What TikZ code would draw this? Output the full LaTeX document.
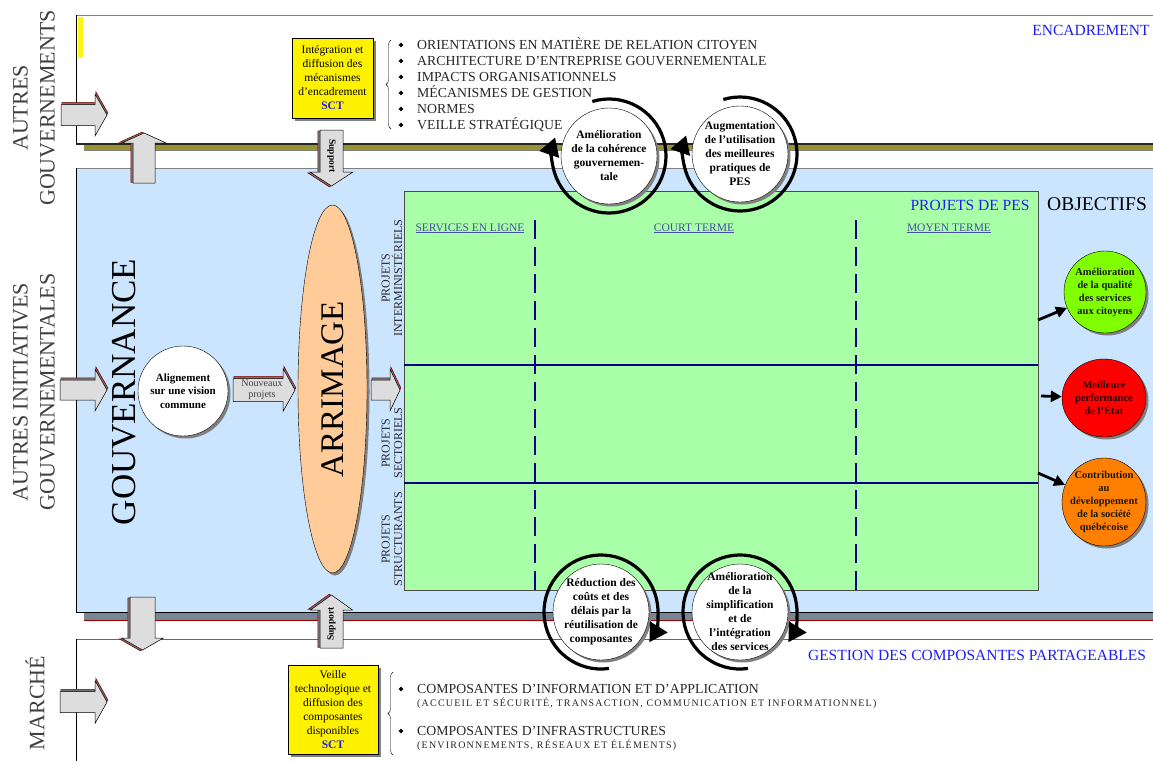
\documentclass[tikz,border=0pt]{standalone}
\usepackage{fontspec}
\setmainfont{Liberation Serif}
\usetikzlibrary{shapes.geometric,arrows.meta,shadows,decorations.pathreplacing}

\definecolor{bgblue}{RGB}{204,229,255}
\definecolor{pesgreen}{RGB}{168,255,168}
\definecolor{peach}{RGB}{255,204,153}
\definecolor{bandolive}{RGB}{153,148,48}
\definecolor{bandslate}{RGB}{120,134,150}
\definecolor{labblue}{RGB}{30,30,240}
\definecolor{colblue}{RGB}{70,80,160}
\definecolor{rownavy}{RGB}{0,0,128}
\definecolor{arrowgray}{RGB}{221,221,221}
\definecolor{objgreen}{RGB}{128,255,0}
\definecolor{objorange}{RGB}{255,128,0}

\newcommand{\fsz}[2]{\fontsize{#1}{#2}\selectfont}

\tikzstyle{shad} = [drop shadow={shadow xshift=2.5pt, shadow yshift=-2.5pt, fill=black!50, opacity=1}]
\tikzstyle{sctbox} = [draw=black, fill=yellow, shad, align=center, inner sep=0pt, font=\fsz{11.5}{14}]
\tikzstyle{cyclecirc} = [circle, draw=black, fill=white, shad, minimum size=96pt, inner sep=0pt]
\tikzstyle{circtxt} = [align=center, inner sep=0pt, font=\bfseries\fsz{11.5}{14}]
\tikzstyle{cyclearc} = [line width=3.2pt, -{Triangle[length=18pt,width=20pt]}]
\tikzstyle{objcirc} = [circle, draw=black, shad, inner sep=0pt]
\tikzstyle{objtxt} = [align=center, inner sep=0pt, text=black!90, font=\bfseries\fsz{10.5}{13}]
\tikzstyle{objarrow} = [line width=2.8pt, -{Triangle[length=11pt,width=11pt]}]
\tikzstyle{bluelab} = [text=labblue, inner sep=0pt, font=\fsz{15.5}{18}]
\tikzstyle{listtxt} = [anchor=west, inner sep=0pt, text height=9.5pt, text depth=0pt, text=black!85, font=\fsz{13.8}{16}]
\tikzstyle{subtxt} = [anchor=west, inner sep=0pt, text=black!85, font=\fsz{10}{11}\addfontfeatures{LetterSpace=12}]
\tikzstyle{encbullet} = [diamond, fill=black, inner sep=0pt, minimum size=5pt]
\tikzstyle{sidelab} = [rotate=90, align=center, inner sep=0pt, text=black!75, font=\fsz{22}{27}]
\tikzstyle{rowlab} = [rotate=90, align=center, inner sep=0pt, text=black!85, font=\fsz{12}{12.5}]
\tikzstyle{colhead} = [anchor=base, text=colblue, inner sep=0pt, font=\fsz{11.5}{13}]
\tikzstyle{coldash} = [rownavy, line width=2pt, dash pattern=on 19pt off 8pt]

% block arrow: transform, length, shaft half width, head half width, head length
\newcommand{\blockarrow}[5]{%
  \begin{scope}[#1]
    \filldraw[fill=black!55, draw=red!55!black, line width=0.6pt, xshift=0.8pt, yshift=2.2pt]
      (0,-#3) -- (#2-#5,-#3) -- (#2-#5,-#4) -- (#2,0) -- (#2-#5,#4) -- (#2-#5,#3) -- (0,#3) -- cycle;
    \filldraw[fill=arrowgray, draw=black, line width=0.5pt]
      (0,-#3) -- (#2-#5,-#3) -- (#2-#5,-#4) -- (#2,0) -- (#2-#5,#4) -- (#2-#5,#3) -- (0,#3) -- cycle;
  \end{scope}}

\begin{document}
\begin{tikzpicture}[x=1pt, y=-1pt]
\useasboundingbox (0,0) rectangle (1153,761);
\clip (0,0) rectangle (1153,761);

% encadrement band
\draw[gray, line width=1pt] (76,15) -- (1153,15);
\draw (76,15) -- (76,144);
\fill[yellow!90!white] (78,17) rectangle (83,58);
\fill[bandolive] (84,144) rectangle (1153,150);
\draw[line width=1.5pt, black!85] (76,144) -- (1153,144);
\draw[gray] (84,150.5) -- (1153,150.5);

% governance zone
\fill[bgblue] (76,168) rectangle (1153,612);
\draw[gray, line width=1pt] (76,168) -- (1153,168);
\draw (76,168) -- (76,612) -- (1153,612);
\fill[bandslate] (84,612.5) rectangle (1153,620);
\draw[red!60!black] (84,620.5) -- (1153,620.5);

% market band
\draw[gray!80!black, line width=0.8pt] (76,639) -- (1153,639);
\draw (76,639) -- (76,761);

% side labels
\node[sidelab] (autgouv) at (34,108) {AUTRES\\GOUVERNEMENTS};
\node[sidelab] (autinit) at (34,392) {AUTRES INITIATIVES\\GOUVERNEMENTALES};
\node[sidelab] (marche) at (35,703) {MARCHÉ};
\node[rotate=90, inner sep=0pt, font=\fsz{35}{40}] (gouv) at (124.5,392) {GOUVERNANCE};

% block arrows
\blockarrow{shift={(61,115)}}{46}{10.5}{21}{12}
\blockarrow{shift={(60,390)}}{47}{10}{21}{12}
\blockarrow{shift={(60,702)}}{47}{10.5}{21.5}{12}
\blockarrow{shift={(233,390)}}{62}{11.5}{21.5}{12}
\blockarrow{shift={(371,390)}}{29}{10}{21}{10}
\blockarrow{shift={(144,183)}, rotate=90}{50}{11}{22}{10}
\blockarrow{shift={(331.5,130)}, rotate=-90, yscale=-1}{56}{11.5}{21.5}{14}
\blockarrow{shift={(142.5,597)}, rotate=-90, yscale=-1}{53}{12.5}{21}{12}
\blockarrow{shift={(331.5,648)}, rotate=90}{53}{11.5}{21}{15}
\node[inner sep=0pt, align=center, text=black!75, font=\fsz{10}{10.5}] (nouv) at (262,390) {Nouveaux\\projets};
\node[rotate=-90, inner sep=0pt, font=\bfseries\fsz{9.5}{10}] (suppA) at (331.5,156) {Support};
\node[rotate=90, inner sep=0pt, font=\bfseries\fsz{9.5}{10}] (suppB) at (331.5,624) {Support};

% SCT boxes and lists
\node[sctbox, minimum width=81pt, minimum height=80pt] (sctA) at (332.5,78) {Intégration et\\diffusion des\\mécanismes\\d'encadrement\\\textcolor{labblue}{\textbf{SCT}}};
\node[sctbox, minimum width=90pt, minimum height=89pt] (sctB) at (333,709.5) {Veille\\technologique et\\diffusion des\\composantes\\disponibles\\\textcolor{labblue}{\textbf{SCT}}};
\draw[decorate, decoration={brace, amplitude=5pt}] (391,129) -- (391,40);
\draw[decorate, decoration={brace, amplitude=5pt}] (393,755) -- (393,672);
\foreach \txt [count=\i] in {ORIENTATIONS EN MATIÈRE DE RELATION CITOYEN, ARCHITECTURE D'ENTREPRISE GOUVERNEMENTALE, IMPACTS ORGANISATIONNELS, MÉCANISMES DE GESTION, NORMES, VEILLE STRATÉGIQUE}{
  \node[encbullet] (bul\i) at (401,29+16*\i) {};
  \node[listtxt] (enc\i) at (417,29+16*\i) {\txt};
}
\node[encbullet] (bulA) at (401,689) {};
\node[listtxt] (compA) at (417,689) {COMPOSANTES D'INFORMATION ET D'APPLICATION};
\node[subtxt] (subA) at (417,703) {(ACCUEIL ET SÉCURITÉ, TRANSACTION, COMMUNICATION ET INFORMATIONNEL)};
\node[encbullet] (bulB) at (401,731) {};
\node[listtxt] (compB) at (417,731) {COMPOSANTES D'INFRASTRUCTURES};
\node[subtxt] (subB) at (417,745) {(ENVIRONNEMENTS, RÉSEAUX ET ÉLÉMENTS)};
\node[bluelab] (encadr) at (1091,30) {ENCADREMENT};
\node[bluelab] (gestion) at (977,655) {GESTION DES COMPOSANTES PARTAGEABLES};

% alignment and arrimage
\node[circle, draw, fill=white, shad, minimum size=90pt, inner sep=0pt] (align) at (183,391) {};
\node[circtxt, font=\bfseries\fsz{11}{13.5}] (aligntxt) at (align) {Alignement\\sur une vision\\commune};
\node[ellipse, draw, fill=peach, shad, minimum width=69pt, minimum height=368pt, inner sep=0pt] (arrim) at (332.5,389) {};
\node[rotate=90, inner sep=0pt, font=\fsz{33}{36}] (arrimtxt) at (arrim) {ARRIMAGE};

% projets de PES
\node[draw=black!70, fill=pesgreen, anchor=north west, minimum width=634pt, minimum height=399pt, inner sep=0pt] (pes) at (404,191) {};
\draw[rownavy, line width=1.5pt] (pes.west |- 0,365) -- (pes.east |- 0,365);
\draw[rownavy, line width=1.5pt] (pes.west |- 0,483) -- (pes.east |- 0,483);
\draw[coldash] (535,220) -- (pes.south -| 535,0);
\draw[coldash] (856,220) -- (pes.south -| 856,0);
\node[bluelab] (pestitle) at (970,205) {PROJETS DE PES};
\node[colhead] (colA) at (470,231) {\underline{SERVICES EN LIGNE}};
\node[colhead] (colB) at (694,231) {\underline{COURT TERME}};
\node[colhead] (colC) at (949,231) {\underline{MOYEN TERME}};
\node[rowlab] (rowA) at (392,278) {PROJETS\\INTERMINISTÉRIELS};
\node[rowlab] (rowB) at (392,443) {PROJETS\\SECTORIELS};
\node[rowlab] (rowC) at (392,539) {PROJETS\\STRUCTURANTS};

% cycles
\node[cyclecirc] (cohe) at (609,156) {};
\node[circtxt] (cohetxt) at (cohe) {Amélioration\\de la cohérence\\gouvernemen-\\tale};
\draw[cyclearc] ([shift={(107:57pt)}]cohe.center) arc[start angle=107, end angle=-199, radius=57pt];
\node[cyclecirc] (prat) at (740,154) {};
\node[circtxt] (prattxt) at (prat) {Augmentation\\de l'utilisation\\des meilleures\\pratiques de\\PES};
\draw[cyclearc] ([shift={(107:57pt)}]prat.center) arc[start angle=107, end angle=-199, radius=57pt];
\node[cyclecirc] (reduc) at (601,612) {};
\node[circtxt] (reductxt) at (reduc) {Réduction des\\coûts et des\\délais par la\\réutilisation de\\composantes};
\draw[cyclearc] ([shift={(278:57pt)}]reduc.center) arc[start angle=278, end angle=-32, radius=57pt];
\node[cyclecirc] (simpl) at (740,612) {};
\node[circtxt] (simpltxt) at (simpl) {Amélioration\\de la\\simplification\\et de\\l'intégration\\des services};
\draw[cyclearc] ([shift={(278:57pt)}]simpl.center) arc[start angle=278, end angle=-32, radius=57pt];

% objectifs
\node[anchor=west, inner sep=0pt, font=\fsz{19.5}{22}] (objtitle) at (1047,204) {OBJECTIFS};
\node[objcirc, fill=objgreen, minimum size=82pt] (obj1) at (1105,292) {};
\node[objtxt] (obj1txt) at (obj1) {Amélioration\\de la qualité\\des services\\aux citoyens};
\node[objcirc, ellipse, fill=red, minimum width=84pt, minimum height=78pt] (obj2) at (1104,398) {};
\node[objtxt, text=red!15!black] (obj2txt) at (obj2) {Meilleure\\performance\\de l'État};
\node[objcirc, ellipse, fill=objorange, minimum width=84pt, minimum height=88pt] (obj3) at (1104,502) {};
\node[objtxt] (obj3txt) at (obj3) {Contribution\\au\\développement\\de la société\\québécoise};
\coordinate (oa) at (1038,320);
\coordinate (ob) at (1041,396);
\coordinate (oc) at (1038,473);
\draw[objarrow] (oa) -- (obj1);
\draw[objarrow] (ob) -- (obj2);
\draw[objarrow] (oc) -- (obj3);
\end{tikzpicture}
\end{document}
